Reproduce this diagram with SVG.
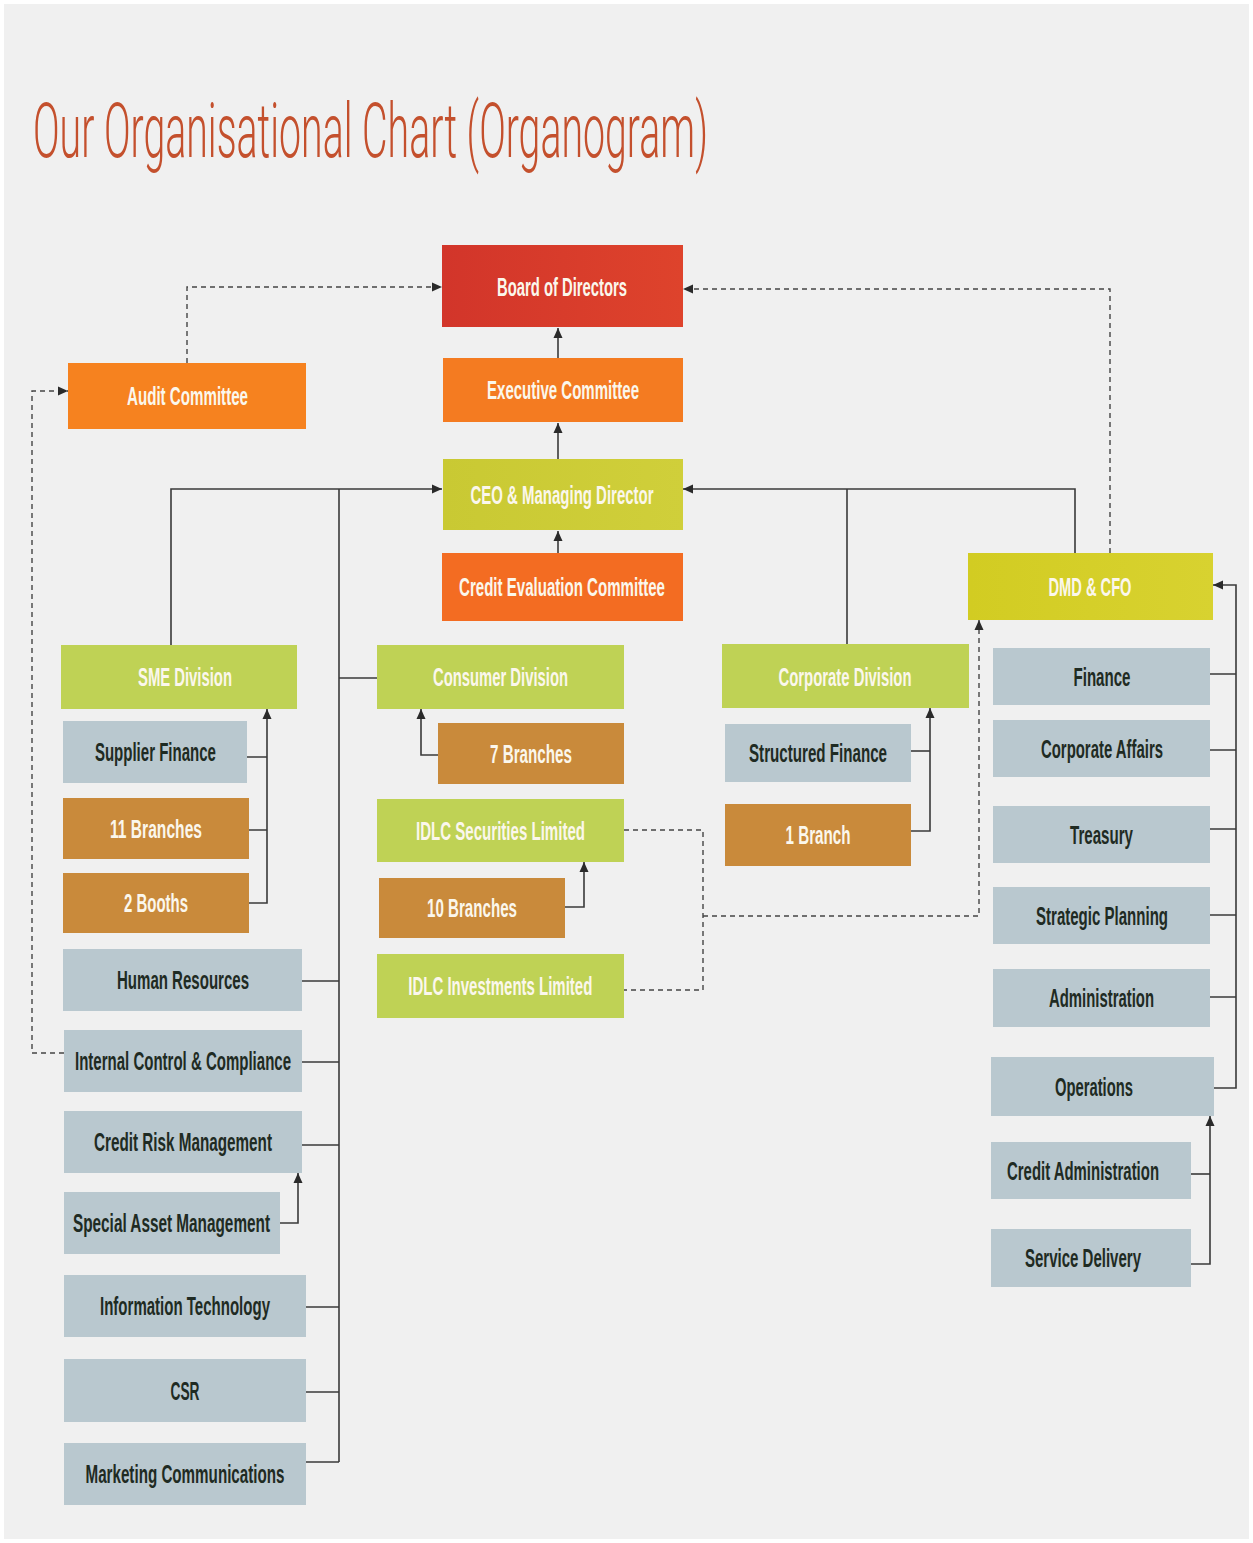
<svg xmlns="http://www.w3.org/2000/svg" width="1253" height="1543" viewBox="0 0 1253 1543">
<defs>
<style>
.t{font-family:"Liberation Sans",Arial,sans-serif;font-size:25px;font-weight:bold;text-anchor:middle}
.w{fill:#fbf7ec}
.d{fill:#1f2b23}
.grey{fill:#b9c8cf}
.div{fill:#bfd255}
.br{fill:#c98a3b}
.c{fill:none;stroke:#3a3a3a;stroke-width:1.6}
.dash{fill:none;stroke:#444;stroke-width:1.4;stroke-dasharray:5 4}
</style>
<marker id="ah" viewBox="0 0 10 10" refX="10" refY="5" markerWidth="10" markerHeight="10" markerUnits="userSpaceOnUse" orient="auto">
<path d="M0,0.5 L10,5 L0,9.5 z" fill="#2a2a2a"/>
</marker>
<linearGradient id="gBoard" x1="0" y1="0" x2="1" y2="0"><stop offset="0" stop-color="#d2352a"/><stop offset="1" stop-color="#de432c"/></linearGradient>
<linearGradient id="gCeo" x1="0" y1="0" x2="1" y2="0"><stop offset="0" stop-color="#c9c933"/><stop offset="1" stop-color="#d0cf3a"/></linearGradient>
<linearGradient id="gDmd" x1="0" y1="0" x2="1" y2="0"><stop offset="0" stop-color="#d2cc22"/><stop offset="1" stop-color="#d8d230"/></linearGradient>
</defs>
<rect x="0" y="0" width="1253" height="1543" fill="#ffffff"/>
<rect x="4" y="4" width="1245" height="1535" fill="#f0f0f0"/>
<text x="33" y="157" font-family="Roboto,'Liberation Sans',Arial,sans-serif" font-weight="300" font-size="76" fill="#c4502d" textLength="675" lengthAdjust="spacingAndGlyphs">Our Organisational Chart (Organogram)</text>

<g id="connectors">
<path class="c" d="M558,358 V328" marker-end="url(#ah)"/>
<path class="c" d="M558,459 V423" marker-end="url(#ah)"/>
<path class="c" d="M558,553 V531" marker-end="url(#ah)"/>
<path class="c" d="M171,645 V489 H442" marker-end="url(#ah)"/>
<path class="c" d="M339,1462 V489"/>
<path class="c" d="M339,678 H377"/>
<path class="c" d="M302,981 H339 M302,1062 H339 M302,1145 H339 M306,1307 H339 M306,1392 H339 M306,1462 H339"/>
<path class="c" d="M1075,553 V489 H683" marker-end="url(#ah)"/>
<path class="c" d="M847,645 V489"/>
<path class="c" d="M247,757 H267 M249,830 H267"/>
<path class="c" d="M249,903 H267 V709" marker-end="url(#ah)"/>
<path class="c" d="M438,755 H421 V709" marker-end="url(#ah)"/>
<path class="c" d="M565,907 H584 V862" marker-end="url(#ah)"/>
<path class="c" d="M911,751 H930"/>
<path class="c" d="M911,831 H930 V708" marker-end="url(#ah)"/>
<path class="c" d="M1210,674 H1236 M1210,750 H1236 M1210,829 H1236 M1210,915 H1236 M1210,997 H1236"/>
<path class="c" d="M1214,1088 H1236 V585 H1213" marker-end="url(#ah)"/>
<path class="c" d="M1191,1174 H1210"/>
<path class="c" d="M1191,1264 H1210 V1116" marker-end="url(#ah)"/>
<path class="c" d="M280,1223 H298 V1173" marker-end="url(#ah)"/>
<path class="dash" d="M187,363 V287 H442" marker-end="url(#ah)"/>
<path class="dash" d="M1110,553 V289 H683" marker-end="url(#ah)"/>
<path class="dash" d="M64,1053 H32 V391 H68" marker-end="url(#ah)"/>
<path class="dash" d="M624,830 H703 V990 H624"/>
<path class="dash" d="M703,916 H979 V620" marker-end="url(#ah)"/>
</g>

<g id="board"><rect x="442" y="245" width="241" height="82" fill="url(#gBoard)"/><text class="t w" x="562" y="296" textLength="130" lengthAdjust="spacingAndGlyphs">Board of Directors</text></g>
<g id="exec"><rect x="443" y="358" width="240" height="64" fill="#f47b21"/><text class="t w" x="563" y="399" textLength="152" lengthAdjust="spacingAndGlyphs">Executive Committee</text></g>
<g id="ceo"><rect x="443" y="459" width="240" height="71" fill="url(#gCeo)"/><text class="t w" x="562" y="504" textLength="183" lengthAdjust="spacingAndGlyphs">CEO &amp; Managing Director</text></g>
<g id="credit-eval"><rect x="442" y="553" width="241" height="68" fill="#f36c22"/><text class="t w" x="562" y="596" textLength="206" lengthAdjust="spacingAndGlyphs">Credit Evaluation Committee</text></g>
<g id="audit"><rect x="68" y="363" width="238" height="66" fill="#f6821f"/><text class="t w" x="187.5" y="405" textLength="121" lengthAdjust="spacingAndGlyphs">Audit Committee</text></g>
<g id="dmd"><rect x="968" y="553" width="245" height="67" fill="url(#gDmd)"/><text class="t w" x="1090" y="596" textLength="83" lengthAdjust="spacingAndGlyphs">DMD &amp; CFO</text></g>

<g id="sme"><rect class="div" x="61" y="645" width="236" height="64"/><text class="t w" x="185" y="686" textLength="94" lengthAdjust="spacingAndGlyphs">SME Division</text></g>
<g id="consumer"><rect class="div" x="377" y="645" width="247" height="64"/><text class="t w" x="500.5" y="686" textLength="135" lengthAdjust="spacingAndGlyphs">Consumer Division</text></g>
<g id="corporate"><rect class="div" x="722" y="644" width="247" height="64"/><text class="t w" x="845" y="686" textLength="133" lengthAdjust="spacingAndGlyphs">Corporate Division</text></g>

<g id="supplier"><rect class="grey" x="63" y="721" width="184" height="62"/><text class="t d" x="155.4" y="761" textLength="121" lengthAdjust="spacingAndGlyphs">Supplier Finance</text></g>
<g id="sme-branches"><rect class="br" x="63" y="798" width="186" height="61"/><text class="t w" x="156" y="838" textLength="92" lengthAdjust="spacingAndGlyphs">11 Branches</text></g>
<g id="booths"><rect class="br" x="63" y="873" width="186" height="60"/><text class="t w" x="156" y="912" textLength="64" lengthAdjust="spacingAndGlyphs">2 Booths</text></g>
<g id="hr"><rect class="grey" x="63" y="949" width="239" height="62"/><text class="t d" x="183" y="989" textLength="132" lengthAdjust="spacingAndGlyphs">Human Resources</text></g>
<g id="icc"><rect class="grey" x="64" y="1030" width="238" height="62"/><text class="t d" x="183" y="1070" textLength="216" lengthAdjust="spacingAndGlyphs">Internal Control &amp; Compliance</text></g>
<g id="crm"><rect class="grey" x="64" y="1111" width="238" height="62"/><text class="t d" x="183" y="1151" textLength="178" lengthAdjust="spacingAndGlyphs">Credit Risk Management</text></g>
<g id="sam"><rect class="grey" x="64" y="1192" width="216" height="62"/><text class="t d" x="171.5" y="1232" textLength="197" lengthAdjust="spacingAndGlyphs">Special Asset Management</text></g>
<g id="it"><rect class="grey" x="64" y="1275" width="242" height="62"/><text class="t d" x="185" y="1315" textLength="170" lengthAdjust="spacingAndGlyphs">Information Technology</text></g>
<g id="csr"><rect class="grey" x="64" y="1359" width="242" height="63"/><text class="t d" x="185" y="1400" textLength="29" lengthAdjust="spacingAndGlyphs">CSR</text></g>
<g id="marcom"><rect class="grey" x="64" y="1443" width="242" height="62"/><text class="t d" x="185" y="1483" textLength="199" lengthAdjust="spacingAndGlyphs">Marketing Communications</text></g>

<g id="consumer-branches"><rect class="br" x="438" y="723" width="186" height="61"/><text class="t w" x="531" y="763" textLength="82" lengthAdjust="spacingAndGlyphs">7 Branches</text></g>
<g id="idlc-sec"><rect class="div" x="377" y="799" width="247" height="63"/><text class="t w" x="500.5" y="840" textLength="169" lengthAdjust="spacingAndGlyphs">IDLC Securities Limited</text></g>
<g id="sec-branches"><rect class="br" x="379" y="878" width="186" height="60"/><text class="t w" x="472" y="917" textLength="90" lengthAdjust="spacingAndGlyphs">10 Branches</text></g>
<g id="idlc-inv"><rect class="div" x="377" y="954" width="247" height="64"/><text class="t w" x="500.3" y="995" textLength="184" lengthAdjust="spacingAndGlyphs">IDLC Investments Limited</text></g>

<g id="structured"><rect class="grey" x="725" y="724" width="186" height="58"/><text class="t d" x="818" y="762" textLength="138" lengthAdjust="spacingAndGlyphs">Structured Finance</text></g>
<g id="corp-branch"><rect class="br" x="725" y="804" width="186" height="62"/><text class="t w" x="818" y="844" textLength="65" lengthAdjust="spacingAndGlyphs">1 Branch</text></g>

<g id="finance"><rect class="grey" x="993" y="648" width="217" height="57"/><text class="t d" x="1102" y="686" textLength="57" lengthAdjust="spacingAndGlyphs">Finance</text></g>
<g id="corp-affairs"><rect class="grey" x="993" y="720" width="217" height="57"/><text class="t d" x="1102" y="758" textLength="122" lengthAdjust="spacingAndGlyphs">Corporate Affairs</text></g>
<g id="treasury"><rect class="grey" x="993" y="806" width="217" height="57"/><text class="t d" x="1101.5" y="844" textLength="63" lengthAdjust="spacingAndGlyphs">Treasury</text></g>
<g id="strategic"><rect class="grey" x="993" y="887" width="217" height="57"/><text class="t d" x="1102" y="925" textLength="132" lengthAdjust="spacingAndGlyphs">Strategic Planning</text></g>
<g id="admin"><rect class="grey" x="993" y="969" width="217" height="58"/><text class="t d" x="1101.5" y="1007" textLength="105" lengthAdjust="spacingAndGlyphs">Administration</text></g>
<g id="operations"><rect class="grey" x="991" y="1057" width="223" height="59"/><text class="t d" x="1094" y="1096" textLength="78" lengthAdjust="spacingAndGlyphs">Operations</text></g>
<g id="credit-admin"><rect class="grey" x="991" y="1142" width="200" height="57"/><text class="t d" x="1083" y="1180" textLength="152" lengthAdjust="spacingAndGlyphs">Credit Administration</text></g>
<g id="service"><rect class="grey" x="991" y="1229" width="200" height="58"/><text class="t d" x="1083" y="1267" textLength="116" lengthAdjust="spacingAndGlyphs">Service Delivery</text></g>
</svg>
